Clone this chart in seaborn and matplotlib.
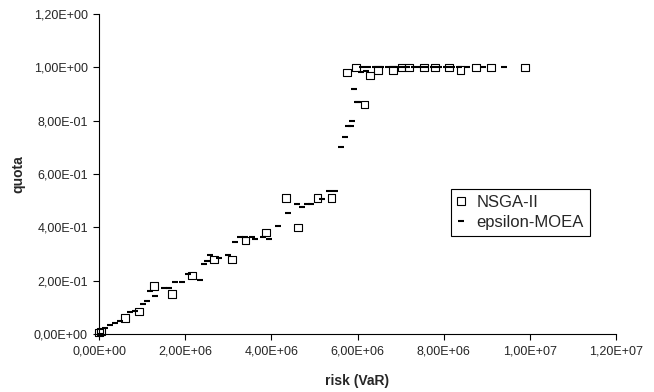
import matplotlib
matplotlib.use("Agg")
import matplotlib.pyplot as plt
from matplotlib.ticker import FuncFormatter
from matplotlib.lines import Line2D
import pandas as pd
import seaborn as sns

# NSGA-II solutions (risk in 1e6, quota)
nsga_risk = [0.00, 0.04, 0.60, 0.93, 1.28, 1.69, 2.16, 2.67, 3.08, 3.40, 3.88,
             4.34, 4.62, 5.07, 5.40, 5.75, 5.96, 6.16, 6.29, 6.48, 6.83, 7.02,
             7.20, 7.55, 7.80, 8.13, 8.39, 8.75, 9.10, 9.89]
nsga_quota = [0.005, 0.01, 0.06, 0.085, 0.18, 0.15, 0.22, 0.28, 0.28, 0.35, 0.38,
              0.51, 0.40, 0.51, 0.51, 0.98, 1.00, 0.86, 0.97, 0.99, 0.99, 1.00,
              1.00, 1.00, 1.00, 1.00, 0.99, 1.00, 1.00, 1.00]

# epsilon-MOEA solutions
eps_risk = [0.04, 0.14, 0.26, 0.38, 0.49, 0.73, 0.84, 1.03, 1.12, 1.18, 1.30,
            1.51, 1.63, 1.76, 1.92, 2.07, 2.34, 2.44, 2.50, 2.58, 2.79, 3.00,
            3.16, 3.27, 3.39, 3.54, 3.62, 3.80, 3.95, 4.15, 4.38, 4.60, 4.70,
            4.82, 4.91, 5.17, 5.34, 5.48, 5.61, 5.72, 5.78, 5.84, 5.87, 5.92,
            5.98, 6.02, 6.08, 6.19, 6.10, 6.25, 6.40, 6.55, 6.70, 6.85, 7.00,
            7.15, 7.30, 7.45, 7.60, 7.75, 7.90, 8.05, 8.20, 8.35, 8.53, 8.92,
            9.40]
eps_quota = [0.00, 0.021, 0.034, 0.042, 0.05, 0.083, 0.085, 0.112, 0.125, 0.162,
             0.144, 0.174, 0.174, 0.194, 0.194, 0.224, 0.204, 0.262, 0.274,
             0.295, 0.285, 0.295, 0.345, 0.365, 0.365, 0.365, 0.355, 0.365,
             0.355, 0.406, 0.455, 0.486, 0.476, 0.486, 0.486, 0.506, 0.536,
             0.536, 0.70, 0.739, 0.779, 0.779, 0.799, 0.919, 0.87, 0.87, 0.981,
             0.987, 1.0, 1.0, 1.0, 1.0, 1.0, 1.0, 1.0, 1.0, 1.0, 1.0, 1.0, 1.0,
             1.0, 1.0, 1.0, 1.0, 1.0, 1.0, 1.0]

x_ticks = [0, 2e6, 4e6, 6e6, 8e6, 10e6, 12e6]
y_ticks = [0, 0.2, 0.4, 0.6, 0.8, 1.0, 1.2]

nsga = pd.DataFrame({"risk": [v * 1e6 for v in nsga_risk], "quota": nsga_quota})
eps = pd.DataFrame({"risk": [v * 1e6 for v in eps_risk], "quota": eps_quota})

sns.set_style("white")
plt.rcParams["font.family"] = ["Liberation Sans", "DejaVu Sans"]

fig = plt.figure(figsize=(6.54, 3.92), dpi=100)
ax = fig.add_axes([0.1514, 0.148, 0.7905, 0.8163])

sns.scatterplot(data=eps, x="risk", y="quota", marker="_", s=18, color="black",
                linewidth=1.5, ax=ax, clip_on=False, zorder=3)
sns.scatterplot(data=nsga, x="risk", y="quota", marker="s", s=30,
                facecolor="none", edgecolor="black", linewidth=0.8, ax=ax,
                clip_on=False, zorder=4)

def sci_comma(v, pos):
    return ("%.2E" % v).replace(".", ",")

ax.set_xlim(0, 1.2e7)
ax.set_ylim(0, 1.2)
ax.set_xticks(x_ticks)
ax.set_yticks(y_ticks)
ax.xaxis.set_major_formatter(FuncFormatter(sci_comma))
ax.yaxis.set_major_formatter(FuncFormatter(sci_comma))
ax.tick_params(axis="both", direction="out", length=4, width=0.8, color="black",
               labelsize=9, pad=4, bottom=True, left=True)
for side in ["top", "right"]:
    ax.spines[side].set_visible(False)
for side in ["left", "bottom"]:
    ax.spines[side].set_color("black")
    ax.spines[side].set_linewidth(0.8)

ax.set_xlabel("risk (VaR)", fontsize=10, fontweight="bold", labelpad=12)
ax.set_ylabel("quota", fontsize=10, fontweight="bold", labelpad=6)

handles = [
    Line2D([], [], marker="s", linestyle="none", markersize=6,
           markerfacecolor="none", markeredgecolor="black", markeredgewidth=0.8),
    Line2D([], [], marker="_", linestyle="none", markersize=4.5,
           color="black", markeredgewidth=1.5),
]
leg = ax.legend(handles, ["NSGA-II", "epsilon-MOEA"], loc="upper left",
                bbox_to_anchor=(0.689, 0.517), bbox_transform=fig.transFigure,
                fontsize=12, frameon=True, fancybox=False, framealpha=1,
                edgecolor="black", handlelength=0.6, handletextpad=0.6,
                borderpad=0.35, labelspacing=0.3, borderaxespad=0)
leg.get_frame().set_linewidth(0.8)

fig.savefig("out.png", dpi=100)
